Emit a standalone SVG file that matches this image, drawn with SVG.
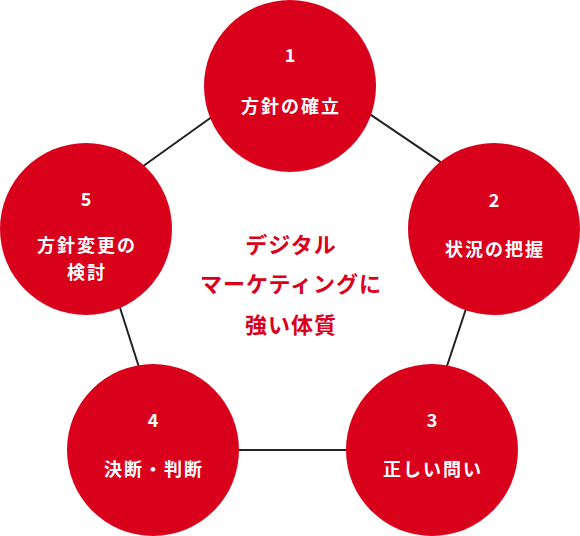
<svg xmlns="http://www.w3.org/2000/svg" width="580" height="536" viewBox="0 0 580 536">
<style>
.c{fill:#d9001b}
.l{stroke:#222;stroke-width:2;fill:none}
.n{font-family:"Noto Sans CJK JP","Noto Sans",sans-serif;font-weight:bold;font-size:18px;fill:#fff;text-anchor:middle}
.t{font-family:"Noto Sans CJK JP",sans-serif;font-weight:bold;font-size:18px;fill:#fff;text-anchor:middle;letter-spacing:2px}
.m{font-family:"Noto Sans CJK JP",sans-serif;font-weight:bold;font-size:22px;fill:#d9001b;text-anchor:middle;letter-spacing:1px}
</style>
<rect width="580" height="536" fill="#fff"/>
<g id="connectors">
<line class="l" x1="130" y1="175.5" x2="225" y2="107.5"/>
<line class="l" x1="355" y1="104.2" x2="455" y2="171.9"/>
<line class="l" x1="470" y1="296.7" x2="443" y2="378"/>
<line class="l" x1="116" y1="295.3" x2="143" y2="379.7"/>
<line class="l" x1="200" y1="450" x2="390" y2="450"/>
</g>
<g id="node1">
<circle class="c" cx="290" cy="86" r="86"/>
<text class="n" x="290" y="62">1</text>
<text class="t" x="291" y="112.5">方針の確立</text>
</g>
<g id="node2">
<circle class="c" cx="494" cy="229" r="86"/>
<text class="n" x="494" y="207">2</text>
<text class="t" x="495" y="255.5">状況の把握</text>
</g>
<g id="node3">
<circle class="c" cx="432" cy="450" r="86"/>
<text class="n" x="432" y="426.5">3</text>
<text class="t" x="433" y="475.5">正しい問い</text>
</g>
<g id="node4">
<circle class="c" cx="153" cy="450" r="86"/>
<text class="n" x="153" y="426.5">4</text>
<text class="t" x="154" y="475.5">決断・判断</text>
</g>
<g id="node5">
<circle class="c" cx="86" cy="229" r="86"/>
<text class="n" x="86" y="206">5</text>
<text class="t" x="87" y="252">方針変更の</text>
<text class="t" x="87" y="279">検討</text>
</g>
<g id="center">
<text class="m" x="291" y="253">デジタル</text>
<text class="m" x="291" y="292">マーケティングに</text>
<text class="m" x="291" y="333">強い体質</text>
</g>
</svg>
